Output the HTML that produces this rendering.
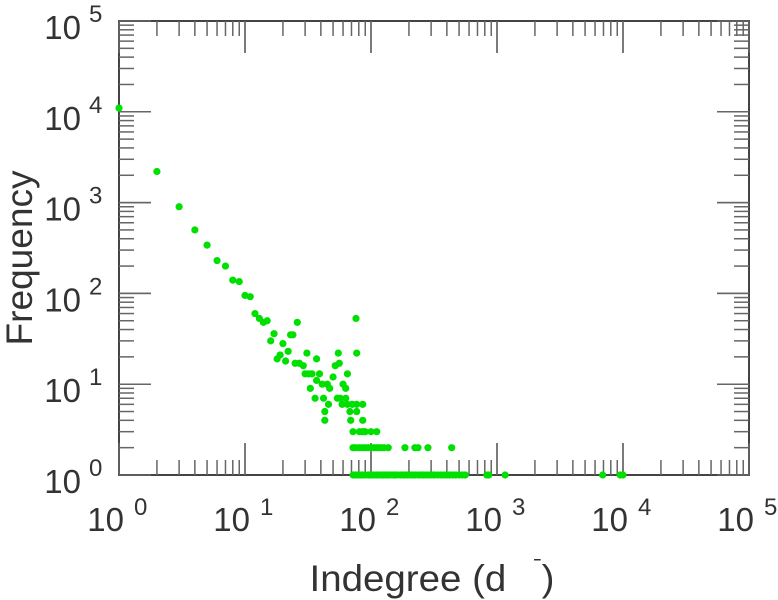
<!DOCTYPE html>
<html><head><meta charset="utf-8"><style>
html,body{margin:0;padding:0;background:#fff;}
svg{display:block;font-family:"Liberation Sans",Arial,sans-serif;}
</style></head><body>
<svg id="chart" width="778" height="600" viewBox="0 0 778 600">
<g id="axes"></g>
<g id="points"></g>
<g id="labels"></g>
<text x="432" y="591" font-size="37" fill="#333" text-anchor="middle" textLength="245" lengthAdjust="spacingAndGlyphs">Indegree (d<tspan dx="26" dy="-16" font-size="24">ˉ</tspan><tspan dy="16">)</tspan></text>
<text transform="translate(32,258) rotate(-90)" font-size="37" fill="#333" text-anchor="middle" textLength="175" lengthAdjust="spacingAndGlyphs">Frequency</text>
</svg>
<script>
const xDecades = [0,1,2,3,4,5];
const yDecades = [0,1,2,3,4,5];
const degrees = [1,2,3,4,5,6,7,8,9,10,11,12,13,14,15,26,17,16,23,24,20,22,19,18,21,31,25,27,29,37,32,30,34,39,37,41,45,47,50,33,36,42,46,43,43,54,55,56,52,65,60,63,63,57,59,65,76,77,71,77,86,68,77,69,86,72,
81,85,88,90,100,111,
72,75,80,85,90,95,100,105,110,115,120,127,137,186,223,236,283,437,
72,75,78,80,83,86,90,95,98,101,105,110,114,120,125,130,136,142,150,155,160,170,178,185,195,205,215,225,238,250,262,275,290,305,320,340,360,380,400,420,445,470,500,530,560,830,860,1160,6900,9500,10000];
const freqs = [11000,2200,900,500,340,230,200,140,135,95,92,60,53,48,50,48,36,30,35,35,28,23,21,19,18,22,17,17,16,19,13,13,13,13,11,10,10,9,12,9,7,7,6,5,4,7,22,17,16,13,10,9,7,7,6,6,53,22,6,6,6,5,5,4,4,3,
3,3,3,3,3,3,
2,2,2,2,2,2,2,2,2,2,2,2,2,2,2,2,2,2,
1,1,1,1,1,1,1,1,1,1,1,1,1,1,1,1,1,1,1,1,1,1,1,1,1,1,1,1,1,1,1,1,1,1,1,1,1,1,1,1,1,1,1,1,1,1,1,1,1,1,1];

const L=119,R=749,T=21,B=475;
const xs=v=>L+(R-L)*Math.log10(v)/5;
const ys=v=>B-(B-T)*Math.log10(v)/5;
const NS="http://www.w3.org/2000/svg";
function mk(tag,attrs,parent){const e=document.createElementNS(NS,tag);for(const k in attrs)e.setAttribute(k,attrs[k]);parent.appendChild(e);return e;}
const axes=document.getElementById('axes');
const frame=mk('rect',{x:L,y:T,width:R-L,height:B-T,fill:'none',stroke:'#444','stroke-width':2},axes);


const tc='#666';
for(let d=0;d<5;d++){
  for(let m=1;m<=10;m++){
    const v=m*Math.pow(10,d);
    const len=(m===1||m===10)?32:15;
    const x=xs(v), y=ys(v);
    const t1=mk('line',{x1:x,x2:x,y1:B,y2:B-len,stroke:tc,'stroke-width':1.5},axes);
    
    
    const t2=mk('line',{x1:x,x2:x,y1:T,y2:T+len,stroke:tc,'stroke-width':1.5},axes);
    
    
    const t3=mk('line',{x1:L,x2:L+len,y1:y,y2:y,stroke:tc,'stroke-width':1.5},axes);
    
    
    const t4=mk('line',{x1:R,x2:R-len,y1:y,y2:y,stroke:tc,'stroke-width':1.5},axes);
    
    
  }
}
const pts=document.getElementById('points');
for(let i=0;i<degrees.length;i++){
  const c=mk('circle',{cx:xs(degrees[i]),cy:ys(freqs[i]),r:3.6,fill:'#00e000'},pts);
  
  
}
const lab=document.getElementById('labels');
xDecades.forEach(d=>{
  const x=xs(Math.pow(10,d));
  const t=mk('text',{x:x+5,y:531,'font-size':33,fill:'#333','text-anchor':'end'},lab);
  t.textContent='10';
  
  
  const s=mk('text',{x:x+15,y:515,'font-size':24,fill:'#333'},lab);
  s.textContent=String(d);
  
  
});
yDecades.forEach(d=>{
  const y=ys(Math.pow(10,d));
  const t=mk('text',{x:81,y:y+18,'font-size':33,fill:'#333','text-anchor':'end'},lab);
  t.textContent='10';
  
  
  const s=mk('text',{x:89,y:y+1,'font-size':24,fill:'#333'},lab);
  s.textContent=String(d);
  
  
});
</script>
</body></html>
